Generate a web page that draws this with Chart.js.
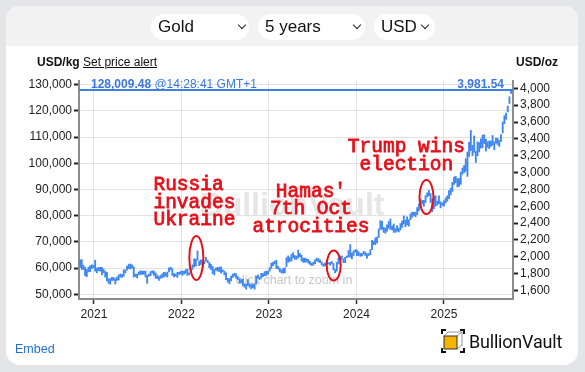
<!DOCTYPE html>
<html>
<head>
<meta charset="utf-8">
<script src="https://cdn.jsdelivr.net/npm/chart.js@4.4.1/dist/chart.umd.min.js"></script>
<style>
  body { margin:0; width:585px; height:372px; background:#e4e5e8; position:relative; overflow:hidden;
         font-family:"Liberation Sans", Arial, sans-serif; }
  #card { position:absolute; left:6px; top:6px; width:572px; height:359px; background:#fff; border-radius:14px; overflow:hidden; }
  #head { position:absolute; left:0; top:0; right:0; height:40px; background:#f2f2f2; }
  canvas { position:absolute; left:0; top:0; }
  .sel { position:absolute; top:14px; height:26px; background:#fff; border-radius:13px; font-size:17px; line-height:26px;
         color:#111; padding-left:7px; box-sizing:border-box; }
  .sel i { position:absolute; top:8px; width:5px; height:5px; border-right:1.6px solid #222; border-bottom:1.6px solid #222; transform:rotate(45deg); }
  .unit { position:absolute; top:55px; font-size:12px; line-height:14px; color:#111; }
  #embed { position:absolute; left:15px; top:342px; font-size:12.5px; color:#1f6fd6; text-decoration:none; }
  #logo { position:absolute; left:441px; top:329px; height:24px; display:flex; align-items:center; }
  #logo span { font-family:Roboto, "Noto Sans", sans-serif; font-size:18px; color:#111; margin-left:4px; letter-spacing:-0.2px; }
</style>
</head>
<body>
<div id="card"><div id="head"></div></div>
<canvas id="chart" width="585" height="372"></canvas>
<div class="sel" style="left:151px;width:98px">Gold<i style="left:88px"></i></div>
<div class="sel" style="left:258px;width:107px">5 years<i style="left:96px"></i></div>
<div class="sel" style="left:374px;width:61px">USD<i style="left:48px"></i></div>
<div class="unit" style="left:37px"><b>USD/kg</b> <u>Set price alert</u></div>
<div class="unit" style="left:516px"><b>USD/oz</b></div>
<a id="embed" href="#">Embed</a>
<div id="logo">
  <svg width="24" height="24" viewBox="0 0 24 24">
    <path d="M7 3h14v14" fill="none" stroke="#999" stroke-width="1"/>
    <path d="M3 7l4-4M16 7l5-4M16 20l5-4" fill="none" stroke="#999" stroke-width="1"/>
    <rect x="3" y="7" width="13" height="13" fill="#f4b400"/>
    <path d="M1 5V1h4M19 1h4v4M23 19v4h-4M5 23H1v-4" fill="none" stroke="#111" stroke-width="2"/>
    <rect x="3" y="7" width="13" height="13" fill="none" stroke="#333" stroke-width="1"/>
  </svg>
  <span>BullionVault</span>
</div>
<script>
// weekly gold price ranges, USD/oz, first week starting 2 Nov 2020
const KG_PER_OZ = 32.1507;
const firstWeek = '2020-11-02';
const lowsOz = [
  1875,1850,1850,1775,1765,1820,1825,1860,1870,
  1830,1810,1835,1830,1785,1810,1760,1715,1685,1676,1720,1720,1678,1720,1725,1760,1755,1770,1810,1840,1860,1855,1865,1760,1765,1750,
  1785,1790,1790,1795,1760,1685,1770,1775,1805,1780,1745,1740,1720,1745,1750,1760,1770,1760,1820,1845,1780,1760,1770,1755,1790,1795,
  1780,1795,1805,1780,1785,1820,1850,1880,1890,1960,1895,1910,1890,1915,1950,1930,1870,1850,1800,1785,1840,1830,1825,1805,1820,1785,
  1730,1700,1680,1715,1755,1770,1745,1730,1690,1690,1655,1640,1615,1660,1640,1620,1635,1615,1675,1745,1730,1745,1765,1775,1780,1795,
  1830,1860,1895,1915,1860,1855,1820,1810,1805,1810,1885,1935,1945,1950,1990,1970,1970,1985,2000,1950,1935,1935,1940,1925,1910,1895,
  1900,1920,1950,1940,1930,1905,1885,1895,1915,1915,1900,1915,1845,1810,1830,1915,1965,1970,1930,1930,1990,2000,1995,1975,2015,2055,
  2015,2015,2005,2010,2030,2015,1985,2015,2025,2085,2145,2145,2165,2230,2325,2325,2290,2280,2305,2340,2325,2320,2290,2290,2305,2295,
  2320,2350,2390,2355,2380,2365,2440,2470,2490,2475,2500,2545,2615,2625,2600,2645,2710,2725,2645,2535,2570,2600,2615,2630,2580,2610,2600,
  2640,2660,2690,2735,2775,2860,2880,2830,2835,2860,2980,3000,3015,2955,3190,3260,3200,3240,3120,3200,
  3245,3290,3295,3345,3255,3300,3285,3310,3325,3270,3350,3330,3310,3370,3470,3580,3630,3720,3820,3940
];
const highsOz = [
  1965,1965,1900,1875,1850,1875,1895,1905,1900,
  1960,1865,1875,1875,1875,1855,1830,1815,1740,1740,1755,1755,1740,1760,1785,1797,1790,1845,1845,1890,1912,1915,1905,1880,1795,1795,
  1820,1835,1830,1830,1830,1780,1795,1825,1835,1830,1810,1785,1765,1780,1800,1815,1810,1820,1870,1877,1860,1800,1795,1815,1815,1830,
  1830,1830,1848,1855,1810,1865,1905,1975,1975,2070,1950,1965,1950,1950,1995,1960,1935,1910,1885,1850,1870,1875,1875,1880,1845,1830,
  1810,1745,1740,1770,1795,1805,1800,1765,1740,1730,1735,1680,1675,1730,1680,1670,1675,1680,1770,1785,1760,1805,1800,1825,1830,1830,
  1870,1925,1935,1950,1960,1885,1865,1845,1860,1870,1990,2010,1990,2030,2050,2015,2010,2080,2040,2020,1985,1985,1975,1970,1945,1925,
  1935,1965,1985,1980,1965,1940,1915,1925,1950,1930,1935,1945,1920,1850,1935,1985,2010,2010,1975,1995,2010,2075,2145,2045,2070,2085,
  2080,2060,2040,2040,2065,2055,2035,2040,2085,2195,2185,2225,2235,2330,2430,2420,2350,2340,2380,2420,2450,2365,2390,2335,2370,2340,
  2395,2425,2485,2435,2475,2440,2510,2530,2530,2530,2585,2625,2685,2670,2670,2725,2760,2790,2750,2690,2720,2725,2660,2725,2655,2640,2665,
  2700,2725,2785,2815,2885,2945,2955,2930,2930,3005,3055,3085,3165,3245,3360,3500,3325,3435,3250,3365,
  3355,3400,3445,3450,3395,3365,3375,3375,3440,3365,3410,3405,3380,3450,3600,3675,3705,3790,3900,3982
];
const kgTicks = [50000, 60000, 70000, 80000, 90000, 100000, 110000, 120000, 130000];
const ozTicks = [1600, 1800, 2000, 2200, 2400, 2600, 2800, 3000, 3200, 3400, 3600, 3800, 4000];
const yearTicks = [2021, 2022, 2023, 2024, 2025];
const lastKg = 128009.48;
const lastOz = 3981.54;
const lastTime = '14:28:41 GMT+1';
const eventLabels = [['Russia', 'invades', 'Ukraine'], ["Hamas'", '7th Oct', 'atrocities'], ['Trump wins', 'election']];
const eventDates = [2022.17, 2023.74, 2024.80];

const kgMin = 48200, kgMax = 131400;
const xMin = 2020.829, xMax = 2025.789;
const FONT = '"Liberation Sans", Arial, sans-serif';

function decYear(d) {
  const y = d.getUTCFullYear();
  const s = Date.UTC(y, 0, 1), e = Date.UTC(y + 1, 0, 1);
  return y + (d.getTime() - s) / (e - s);
}

const start = new Date(firstWeek + 'T00:00:00Z').getTime();
const bars = lowsOz.map((lo, i) => {
  const d = new Date(start + (i * 7 + 2) * 864e5);
  return { x: decYear(d), y: [lo * KG_PER_OZ, highsOz[i] * KG_PER_OZ] };
});

// watermark, current price line and the red notes
const notes = {
  id: 'notes',
  beforeDatasetsDraw(chart) {
    const ctx = chart.ctx;
    ctx.save();
    ctx.textAlign = 'center';
    ctx.fillStyle = '#e6e6e6';
    ctx.font = 'bold 32px ' + FONT;
    ctx.fillText('BullionVault', 292, 215);
    ctx.fillStyle = '#c6c6c6';
    ctx.font = '12.5px ' + FONT;
    ctx.fillText('click chart to zoom in', 294, 284);
    ctx.restore();
  },
  afterDatasetsDraw(chart) {
    const { ctx, chartArea: a } = chart;
    const x = chart.scales.x, y = chart.scales.y;
    ctx.save();
    const py = y.getPixelForValue(lastKg);
    ctx.strokeStyle = '#3c80e6';
    ctx.lineWidth = 2;
    ctx.beginPath();
    ctx.moveTo(a.left, py);
    ctx.lineTo(a.right, py);
    ctx.stroke();

    ctx.fillStyle = '#3b78dc';
    ctx.textAlign = 'left';
    ctx.font = 'bold 12px ' + FONT;
    const s1 = lastKg.toLocaleString('en-US', { minimumFractionDigits: 2 });
    ctx.fillText(s1, a.left + 12, py - 2);
    const w = ctx.measureText(s1).width;
    ctx.font = '12px ' + FONT;
    ctx.fillText(' @' + lastTime, a.left + 12 + w, py - 2);
    ctx.font = 'bold 12px ' + FONT;
    ctx.textAlign = 'right';
    ctx.fillText(lastOz.toLocaleString('en-US', { minimumFractionDigits: 2 }), a.right - 9, py - 2);

    // ellipse: centre price + vertical radius, text: anchor date/price + alignment
    const layout = [
      { kg: 63850, ry: 22, tx: 2021.68, tkg: 89800, align: 'left' },
      { kg: 61000, ry: 15, tx: 2023.48, tkg: 87140, align: 'center' },
      { kg: 87100, ry: 17, tx: 2024.57, tkg: 104300, align: 'center' }
    ];
    ctx.strokeStyle = '#e5101a';
    ctx.fillStyle = '#e5101a';
    ctx.lineWidth = 2;
    eventDates.forEach((dt, i) => {
      const L = layout[i];
      ctx.beginPath();
      ctx.ellipse(x.getPixelForValue(dt), y.getPixelForValue(L.kg), 7, L.ry, 0, 0, Math.PI * 2);
      ctx.stroke();
    });
    ctx.font = '19.5px "Liberation Mono", "Courier New", monospace';
    ctx.lineWidth = 0.8;
    eventDates.forEach((dt, i) => {
      const L = layout[i];
      ctx.textAlign = L.align;
      const tx = x.getPixelForValue(L.tx), ty = y.getPixelForValue(L.tkg);
      eventLabels[i].forEach((t, j) => {
        ctx.fillText(t, tx, ty + j * 17.5);
        ctx.strokeText(t, tx, ty + j * 17.5);
      });
    });
    ctx.restore();
  }
};

Chart.defaults.font.family = FONT;

new Chart(document.getElementById('chart'), {
  type: 'bar',
  data: {
    datasets: [{
      data: bars,
      backgroundColor: '#3d86f2',
      borderWidth: 0,
      barThickness: 1.2
    }]
  },
  options: {
    responsive: false,
    animation: false,
    events: [],
    layout: { padding: { top: 81, left: 0, right: 0, bottom: 0 } },
    plugins: { legend: { display: false }, tooltip: { enabled: false } },
    scales: {
      x: {
        type: 'linear', min: xMin, max: xMax, offset: false,
        afterBuildTicks: s => { s.ticks = yearTicks.map(v => ({ value: v })); },
        afterFit: s => { s.height = 73; },
        ticks: { callback: v => String(v), color: '#222', font: { size: 12 }, padding: 3, maxRotation: 0 },
        grid: { offset: false, color: '#e3e3e3', tickColor: '#333', tickLength: 5, tickWidth: 1.5 },
        border: { color: '#8c8c8c', width: 2 }
      },
      y: {
        position: 'left', min: kgMin, max: kgMax,
        afterBuildTicks: s => { s.ticks = kgTicks.map(v => ({ value: v })); },
        afterFit: s => { s.width = 79; },
        ticks: { callback: v => v.toLocaleString('en-US'), color: '#222', font: { size: 12 }, padding: 2 },
        grid: { color: '#e3e3e3', tickColor: '#222', tickLength: 5, tickWidth: 2 },
        border: { color: '#8c8c8c', width: 2 }
      },
      y2: {
        position: 'right', min: kgMin / KG_PER_OZ, max: kgMax / KG_PER_OZ,
        afterBuildTicks: s => { s.ticks = ozTicks.map(v => ({ value: v })); },
        afterFit: s => { s.width = 72; },
        ticks: { callback: v => v.toLocaleString('en-US'), color: '#222', font: { size: 12 }, padding: 2 },
        grid: { drawOnChartArea: false, tickColor: '#222', tickLength: 5, tickWidth: 2 },
        border: { color: '#8c8c8c', width: 2 }
      }
    }
  },
  plugins: [notes]
});
</script>
</body>
</html>
